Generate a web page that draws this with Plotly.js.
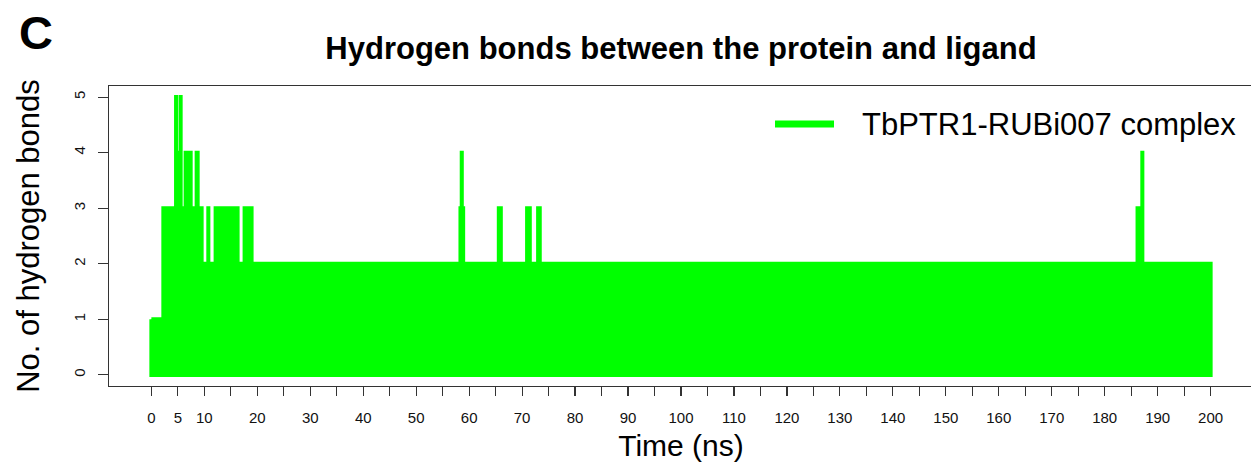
<!DOCTYPE html>
<html><head><meta charset="utf-8">
<script src="https://cdn.plot.ly/plotly-3.0.1.min.js"></script>
<style>html,body{margin:0;padding:0;overflow:hidden;background:#fff}</style>
</head><body><div id="chart"></div>
<script>
// Envelope of the hydrogen-bond count (step: value holds from time[i] to time[i+1])
const time = [0, 2.26, 4.66, 4.67, 5.52, 5.53, 6.47, 7.42, 8.55, 8.74,
              9.49, 10.75, 10.76, 12.13, 16.28, 17.60, 18.92, 58.36, 58.60, 58.61,
              58.87, 65.60, 65.98, 70.94, 71.45, 73.02, 73.33, 186.2, 187.1, 187.11,
              200];
const maxBonds = [1, 3, 5, 4, 5, 3, 4, 3, 4, 3,
                  2, 3, 2, 3, 2, 3, 2, 3, 4, 3,
                  2, 3, 2, 3, 2, 3, 2, 3, 4, 2,
                  2];
// lower edge of the trace (minimum count), from end back to start
const minTime = [200, 0];
const minBonds = [0, 0];

const seriesName = "TbPTR1-RUBi007 complex";
const xTickVals = [0,5,10,15,20,25,30,35,40,45,50,55,60,65,70,75,80,85,90,95,100,
                   105,110,115,120,125,130,135,140,145,150,155,160,165,170,175,180,185,190,195,200];
const xTickText = ["0","5","10","","20","","30","","40","","50","","60","","70","","80","","90","","100",
                   "","110","","120","","130","","140","","150","","160","","170","","180","","190","","200"];
const yTickVals = [0,1,2,3,4,5];
const yTickText = ["0","1","2","3","4","5"];

const green = "#00FF00";
const FONT = "Liberation Sans, Arial, Helvetica, sans-serif";

// closed outline: upper step edge, lower edge, then back to start
const outX = time.concat(minTime, [time[0]]);
const outY = maxBonds.concat(minBonds, [maxBonds[0]]);

const traces = [{
  type: "scatter", mode: "lines", name: seriesName,
  x: outX, y: outY,
  line: {color: green, width: 4, shape: "hv"},
  fill: "toself", fillcolor: green,
  showlegend: false, hoverinfo: "skip"
}];

// plot area geometry (px) used for paper-coordinate decorations
const W = 1254, H = 465, L = 109, R = 1, T = 86, B = 79;
const pw = W - L - R, ph = H - T - B;
const px = v => (v - L) / pw;
const py = v => (H - B - v) / ph;

const layout = {
  width: W, height: H,
  margin: {l: L, r: R, t: T, b: B, pad: 0},
  paper_bgcolor: "#fff", plot_bgcolor: "#fff",
  font: {family: FONT, color: "#000"},
  showlegend: false,
  title: {
    text: "Hydrogen bonds between the protein and ligand",
    font: {family: FONT, size: 31, weight: "bold", color: "#000"},
    x: 0.5, xref: "paper", xanchor: "center",
    y: 1 - 48 / H, yref: "container", yanchor: "middle"
  },
  xaxis: {
    range: [-8, 208], showgrid: false, zeroline: false,
    showline: true, mirror: true, linecolor: "#333", linewidth: 1.2,
    ticks: "outside", ticklen: 9, tickwidth: 1.2, tickcolor: "#333",
    tickmode: "array", tickvals: xTickVals, ticktext: xTickText,
    tickfont: {family: FONT, size: 15, color: "#111"},
    ticklabelstandoff: 9,
    title: {text: "Time (ns)", font: {family: FONT, size: 30, color: "#000"}, standoff: 9},
    automargin: false, fixedrange: true
  },
  yaxis: {
    range: [-0.2, 5.2], showgrid: false, zeroline: false,
    showline: true, mirror: true, linecolor: "#333", linewidth: 1.2,
    ticks: "outside", ticklen: 10, tickwidth: 1.2, tickcolor: "#333",
    tickmode: "array", tickvals: yTickVals, ticktext: yTickText,
    tickangle: -90,
    tickfont: {family: FONT, size: 15, color: "#111"},
    ticklabelstandoff: 7,
    title: {text: "No. of hydrogen bonds", font: {family: FONT, size: 31, color: "#000"}, standoff: 22},
    automargin: false, fixedrange: true
  },
  shapes: [{
    type: "line", xref: "paper", yref: "paper",
    x0: px(775), x1: px(834), y0: py(124), y1: py(124),
    line: {color: green, width: 7}
  }],
  annotations: [
    {text: "C", xref: "paper", yref: "paper", x: px(36), y: py(33),
     xanchor: "center", yanchor: "middle", showarrow: false,
     font: {family: FONT, size: 47, weight: "bold", color: "#000"}},
    {text: seriesName, xref: "paper", yref: "paper", x: px(860), y: py(124),
     xanchor: "left", yanchor: "middle", showarrow: false,
     font: {family: FONT, size: 31, color: "#000"}}
  ]
};

Plotly.newPlot("chart", traces, layout, {staticPlot: true, displayModeBar: false});
</script></body></html>
